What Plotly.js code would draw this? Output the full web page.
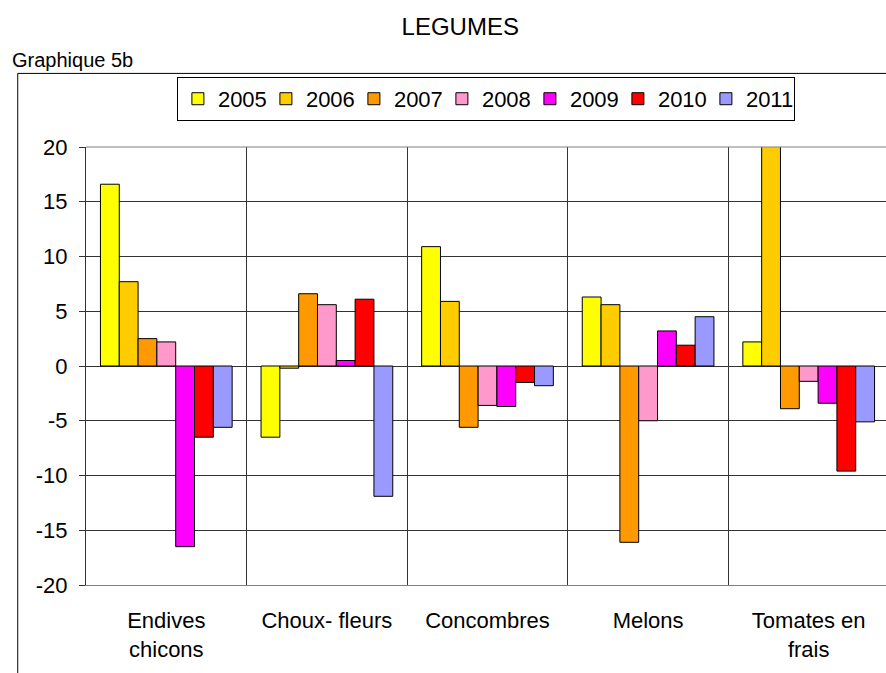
<!DOCTYPE html>
<html>
<head>
<meta charset="utf-8">
<script src="https://cdn.plot.ly/plotly-3.0.1.min.js"></script>
<style>
html,body{margin:0;padding:0;overflow:hidden;background:#fff;}
#chart{width:892px;height:673px;}
</style>
</head>
<body>
<div id="chart"></div>
<script>
const categories = ["Endives<br>chicons", "Choux- fleurs", "Concombres", "Melons", "Tomates en<br>frais"];
const years = ["2005", "2006", "2007", "2008", "2009", "2010", "2011"];
const colors = ["#FFFF00", "#FFCC00", "#FF9900", "#FF99CC", "#FF00FF", "#FF0000", "#9999FF"];
const v2005 = [16.6, -6.5, 10.9, 6.3, 2.2];
const v2006 = [7.7, -0.2, 5.9, 5.6, 22];
const v2007 = [2.5, 6.6, -5.6, -16.1, -3.9];
const v2008 = [2.2, 5.6, -3.6, -5.0, -1.4];
const v2009 = [-16.5, 0.5, -3.7, 3.2, -3.4];
const v2010 = [-6.5, 6.1, -1.5, 1.9, -9.6];
const v2011 = [-5.6, -11.9, -1.8, 4.5, -5.1];
const seriesValues = [v2005, v2006, v2007, v2008, v2009, v2010, v2011];
const yTicks = [-20, -15, -10, -5, 0, 5, 10, 15, 20];

const FONT = "Arial, 'Liberation Sans', sans-serif";

const data = years.map((y, i) => ({
  type: "bar",
  name: y,
  x: categories,
  y: seriesValues[i],
  marker: {color: colors[i], line: {color: "#000", width: 1}}
}));

const layout = {
  width: 892,
  height: 673,
  margin: {l: 86, r: 3, t: 147, b: 88, pad: 0},
  paper_bgcolor: "#fff",
  plot_bgcolor: "#fff",
  font: {family: FONT, size: 22, color: "#000"},
  title: {text: "LEGUMES", font: {family: FONT, size: 24, color: "#000"},
          xref: "container", x: 0.516, xanchor: "center",
          yref: "container", y: 0.96, yanchor: "middle"},
  barmode: "group",
  bargap: 0.18,
  bargroupgap: 0,
  showlegend: true,
  legend: {orientation: "h", x: 0.498, xanchor: "center", y: 1.16, yanchor: "top",
           bordercolor: "#000", borderwidth: 1, font: {family: FONT, size: 22, color: "#000"},
           traceorder: "normal", entrywidth: 43, entrywidthmode: "pixels"},
  xaxis: {
    type: "category",
    tickson: "boundaries",
    showgrid: true, gridcolor: "#333", gridwidth: 1,
    showline: true, linecolor: "#808080", linewidth: 1, mirror: false,
    ticks: "", ticklabelstandoff: 16,
    tickfont: {family: FONT, size: 22, color: "#000"},
    fixedrange: true
  },
  yaxis: {
    range: [-20, 20],
    tickvals: yTicks,
    ticktext: yTicks.map(String),
    showgrid: true, gridcolor: "#333", gridwidth: 1,
    zeroline: false,
    showline: true, linecolor: "#333", linewidth: 1,
    ticks: "outside", ticklen: 6, tickcolor: "#333",
    ticklabelstandoff: 7,
    tickfont: {family: FONT, size: 22, color: "#000"},
    fixedrange: true
  },
  shapes: [
    {type: "rect", xref: "paper", yref: "paper", x0: -0.085, x1: 1.05, y0: -0.25, y1: 1.168,
     line: {color: "#000", width: 1}, fillcolor: "rgba(0,0,0,0)", layer: "below"},
    {type: "line", xref: "paper", yref: "paper", x0: 0, x1: 1, y0: 1, y1: 1,
     line: {color: "#808080", width: 1}}
  ],
  annotations: [
    {text: "Graphique 5b", xref: "paper", yref: "paper", x: -0.095, xanchor: "left",
     y: 1.198, yanchor: "middle", showarrow: false, font: {family: FONT, size: 20, color: "#000"}}
  ]
};

Plotly.newPlot("chart", data, layout, {displayModeBar: false, staticPlot: true});
</script>
</body>
</html>
